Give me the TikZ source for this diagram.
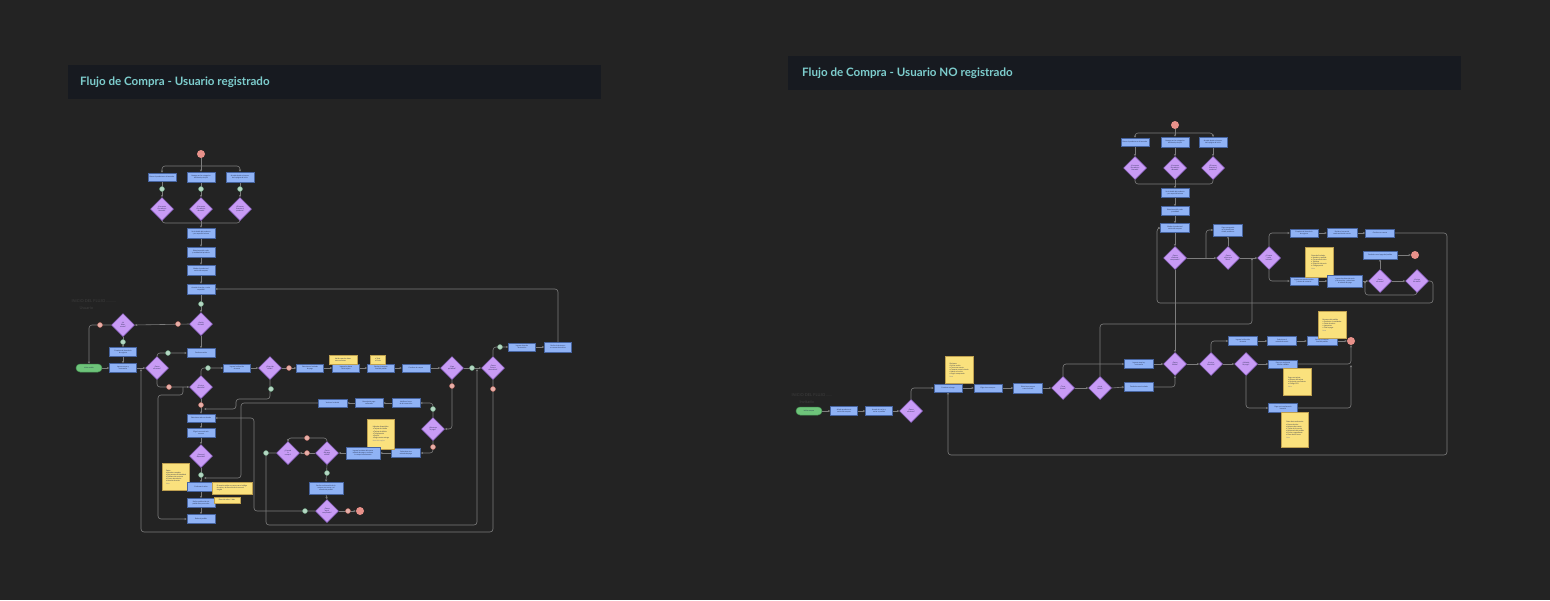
\documentclass[tikz,border=0pt]{standalone}
\usepackage{fontspec}
\setmainfont{Lato}
\usetikzlibrary{shapes.geometric,arrows.meta}
\definecolor{bgc}{RGB}{35,35,35}
\definecolor{barc}{RGB}{23,26,32}
\definecolor{titc}{RGB}{125,205,205}
\definecolor{boxf}{RGB}{143,178,245}
\definecolor{boxd}{RGB}{70,100,160}
\definecolor{diaf}{RGB}{200,155,245}
\definecolor{diad}{RGB}{150,105,210}
\definecolor{notef}{RGB}{250,225,125}
\definecolor{noted}{RGB}{190,160,80}
\definecolor{pillf}{RGB}{110,196,122}
\definecolor{pilld}{RGB}{70,150,85}
\definecolor{endf}{RGB}{232,145,138}
\definecolor{lnc}{RGB}{125,125,125}
\definecolor{gmf}{RGB}{180,215,195}
\definecolor{gmd}{RGB}{105,160,125}
\definecolor{rmf}{RGB}{232,175,168}
\definecolor{rmd}{RGB}{190,110,100}
\definecolor{txt}{RGB}{35,45,75}
\definecolor{dim}{RGB}{62,62,62}
\pgfdeclarelayer{bottom}
\pgfdeclarelayer{lines}
\pgfsetlayers{bottom,lines,main}
\tikzset{
  rc/.style={rounded corners=3pt},
  ln/.style={draw=lnc, line width=0.6pt, -{Stealth[length=2.4pt,width=2.2pt]}},
  lnp/.style={draw=lnc, line width=0.6pt},
  tf/.style={font=\fontsize{1.7}{2.1}\selectfont, text=txt},
  box/.style 2 args={rectangle, draw=boxd, fill=boxf, line width=0.5pt, minimum width=#1pt, minimum height=#2pt, inner sep=0.4pt, align=center, tf},
  dia/.style={diamond, draw=diad, fill=diaf, line width=0.5pt, minimum width=23pt, minimum height=23pt, aspect=1, inner sep=0pt, align=center, tf},
  note/.style 2 args={rectangle, draw=noted, fill=notef, line width=0.4pt, minimum width=#1pt, minimum height=#2pt, inner sep=1pt, align=left, tf},
  pill/.style={rectangle, rounded corners=4pt, draw=pilld, fill=pillf, line width=0.5pt, minimum width=26pt, minimum height=8pt, inner sep=0.4pt, tf},
  endc/.style={circle, fill=endf, minimum size=8pt, inner sep=0pt},
  gm/.style={circle, fill=gmf, draw=gmd, line width=0.4pt, minimum size=5pt, inner sep=0pt},
  rm/.style={circle, fill=rmf, draw=rmd, line width=0.4pt, minimum size=5pt, inner sep=0pt},
  title/.style={anchor=west, inner sep=0pt, text=titc, font=\fontsize{11.6}{13}\selectfont\bfseries},
  dimt/.style={anchor=west, text=dim, font=\fontsize{4}{5}\selectfont},
}
\begin{document}
\begin{tikzpicture}[x=1pt,y=-1pt]
\begin{pgfonlayer}{bottom}
\fill[bgc] (0,0) rectangle (1550,600);
\fill[barc] (68,65) rectangle (601,99);
\fill[barc] (788,56) rectangle (1461,90);
\end{pgfonlayer}
\useasboundingbox (0,0) rectangle (1550,600);
\node[title] (t1) at (80,82) {Flujo de Compra - Usuario registrado};
\node[title] (t2) at (802,73) {Flujo de Compra - Usuario NO registrado};
\node[dimt] (dl1) at (68,301) {INICIO DEL FLUJO ..........};
\node[dimt] (dl2) at (76,308) {Usuario};
\node[dimt] (dr1) at (788,395) {INICIO DEL FLUJO ......};
\node[dimt] (dr2) at (796,402) {Invitado};

% ===== LEFT DIAGRAM =====
\node[endc] (s1) at (201,154) {};
\node[box={28}{8}] (b1) at (162,177) {Busca el producto en el buscador};
\node[box={28}{10}] (b2) at (201,177) {Navega por las categorías\\del menú principal};
\node[box={28}{10}] (b3) at (240,177) {Accede desde un banner\\de la página de inicio};
\node[gm] (g1) at (162,189) {};
\node[gm] (g2) at (201,189) {};
\node[gm] (g3) at (240,189) {};
\node[dia] (d1) at (162,209) {¿Encuentra\\el producto\\buscado?};
\node[dia] (d2) at (201,209) {¿Encuentra\\el producto\\deseado?};
\node[dia] (d3) at (240,209) {¿El banner\\muestra el\\producto?};
\node[box={28}{10}] (b4) at (201,233) {Ve el detalle del producto\\y sus especificaciones};
\node[box={28}{10}] (b5) at (201,252) {Selecciona talla, color\\y cantidad del producto};
\node[box={28}{10}] (b6) at (201,270) {Añade el producto al\\carrito de compras};
\node[box={28}{10}] (b7) at (201,289) {Accede al carrito y revisa\\su pedido};
\node[gm] (g4) at (201,304) {};
\node[dia] (d4) at (201,324) {¿Sesión\\iniciada?};
\node[rm] (r1) at (178,324) {};
\node[dia] (d5) at (123,325) {¿Ya\\tiene\\cuenta?};
\node[rm] (r2) at (100,325) {};
\node[gm] (g5) at (123,342) {};
\node[box={27}{9}] (b8) at (123,352) {Completa el formulario\\de registro};
\node[pill] (pill1) at (89,368) {Iniciar sesión};
\node[box={27}{9}] (b9) at (123,368) {Ingresa correo y\\contraseña};
\node[dia] (d6) at (157,368) {¿Datos\\correctos?};
\node[gm] (g6) at (168,353) {};
\node[box={28}{9}] (b10) at (201,353) {Confirma sesión};
\node[rm] (r3) at (169,387) {};
\node[dia] (d7) at (201,387) {¿Envío a\\domicilio?};
\node[gm] (g7) at (208,368) {};
\node[box={27}{8}] (b11) at (237,368) {Ingresa la dirección\\de envío};
\node[dia] (d8) at (270,368) {¿Dirección\\válida?};
\node[rm] (r4) at (289,368) {};
\node[box={27}{8}] (b12) at (310,368) {Selecciona el método\\de pago};
\node[box={27}{8}] (b13) at (346,368) {Ingresa los datos\\de la tarjeta};
\node[note={28}{9}] (n1) at (343,359.5) {Verifica que los datos\\sean correctos};
\node[box={27}{8}] (b14) at (381,368) {Revisa el resumen\\final del pedido};
\node[note={15}{9}] (n2) at (378,359.5) {• Total\\• Envío};
\node[box={28}{8}] (b15) at (416,368) {Confirma la compra};
\node[dia] (d9) at (452,368) {¿Pago\\aprobado?};
\node[gm] (g8) at (472,368) {};
\node[dia] (d10) at (493,368) {¿Desea\\factura\\electrónica?};
\node[gm] (g9) at (500,347) {};
\node[box={27}{8}] (b16) at (522,347) {Ingresa datos de\\facturación};
\node[box={27}{10}] (b17) at (558,347) {Recibe la factura en\\su correo electrónico};
\node[rm] (r10) at (452,386) {};
\node[rm] (r11) at (493,389) {};
\node[gm] (g10) at (271,389) {};
\node[rm] (r5) at (201,405) {};
\node[box={29}{8}] (b23) at (332.5,403) {Vuelve a la tienda};
\node[box={28}{9}] (b24) at (369,403) {Mensaje de pago\\rechazado};
\node[box={28}{9}] (b25) at (406,403) {Notifica el error\\de la transacción};
\node[gm] (g12) at (433,409) {};
\node[dia] (d12) at (433,429) {¿Reintenta\\el pago?};
\node[rm] (r6) at (433,447) {};
\node[box={29}{9}] (b26) at (406,453) {Selecciona otro\\método de pago};
\node[note={27}{30}] (n3) at (381,434) {Métodos disponibles:\\• Tarjeta de crédito\\• Tarjeta de débito\\• Transferencia\\• PayPal\\• Pago contra entrega\\[0.6pt]{\color{txt!60}Nota del equipo}};
\node[box={34}{12}] (b27) at (363,453) {Ingresa los datos del nuevo\\método de pago y confirma\\la compra nuevamente};
\node[dia] (d13) at (327,453) {¿Datos\\del pago\\válidos?};
\node[rm] (r7) at (307,438) {};
\node[rm] (r8) at (307,453) {};
\node[dia] (d14) at (288,453) {¿Cancela\\la\\compra?};
\node[gm] (g13) at (266,453) {};
\node[gm] (g14) at (327,473) {};
\node[box={34}{12}] (b28) at (326,488) {Recibe confirmación de la\\compra por correo y el\\número de pedido};
\node[dia] (d15) at (327,511) {¿Desea\\seguir\\comprando?};
\node[gm] (g15) at (305,511) {};
\node[rm] (r9) at (348,511) {};
\node[endc] (end2) at (360,511) {};
\node[box={28}{8}] (b18) at (201,418) {Selecciona retiro en tienda};
\node[box={28}{9}] (b19) at (201,433) {Elige la sucursal más\\cercana};
\node[dia] (d11) at (201,456) {¿Sucursal\\disponible?};
\node[gm] (g11) at (201,475) {};
\node[note={27}{27}] (n4) at (176,477) {Datos:\\• Nombre completo\\• Documento de identidad\\• Teléfono de contacto\\• Correo electrónico\\• Horario de retiro\\[0.6pt]{\color{txt!60}Nota}};
\node[box={28}{9}] (b20) at (201,487) {Confirma el retiro};
\node[note={40}{12}] (n5) at (232,488) {El usuario recibe un correo con el código\\de retiro y la dirección de la sucursal\\elegida};
\node[box={28}{9}] (b21) at (201,503) {Recibe notificación de\\pedido listo para retiro};
\node[note={26}{6}] (n6) at (227,500) {Plazo de retiro: 5 días};
\node[box={28}{9}] (b22) at (201,519) {Retira el pedido};

% ===== RIGHT DIAGRAM =====
\node[endc] (s2) at (1175,125) {};
\node[box={28}{8}] (rb1) at (1135,142) {Busca el producto en el buscador};
\node[box={28}{10}] (rb2) at (1175,142) {Navega por las categorías\\del menú principal};
\node[box={28}{10}] (rb3) at (1213,142) {Accede desde un banner\\de la página de inicio};
\node[dia] (rd1) at (1135,168) {¿Encuentra\\el producto\\buscado?};
\node[dia] (rd2) at (1175,168) {¿Encuentra\\el producto\\deseado?};
\node[dia] (rd3) at (1213,168) {¿El banner\\muestra el\\producto?};
\node[box={28}{9}] (rb4) at (1175,193) {Ve el detalle del producto\\y sus especificaciones};
\node[box={28}{9}] (rb5) at (1175,211) {Selecciona talla, color\\y cantidad};
\node[box={29}{9}] (rb6) at (1175,228) {Añade el producto al\\carrito de compras};
\node[dia] (rd4) at (1175,258) {¿Desea\\continuar\\comprando?};
\node[box={29}{12}] (rb7) at (1228,230) {Sigue navegando\\en la tienda para\\añadir productos};
\node[dia] (rd5) at (1228,258) {¿Desea\\registrarse\\ahora?};
\node[dia] (rd6) at (1269,258) {¿Compra\\como\\invitado?};
\node[box={28}{8}] (rbA) at (1304,233) {Completa el formulario\\de registro};
\node[box={30}{9}] (rbB) at (1342,233) {Recibe el correo de\\confirmación de cuenta};
\node[box={29}{8}] (rbC) at (1380,233) {Confirma su cuenta};
\node[box={28}{8}] (rbD) at (1304,281) {Ingresa correo electrónico\\y datos de contacto};
\node[note={28}{30}] (rn1) at (1319,262) {Datos del invitado:\\• Nombre y apellido\\• Correo electrónico\\• Teléfono\\• Dirección de envío\\• Código postal\\[0.6pt]{\color{txt!60}Nota}};
\node[box={35}{12}] (rbE) at (1345,281) {Ingresa los datos de envío\\y facturación, y selecciona\\el método de pago};
\node[dia] (rd8) at (1380,281) {¿Datos\\correctos?};
\node[dia] (rd9) at (1417,281) {¿Corrige\\los datos?};
\node[box={34}{8}] (rbF) at (1380,255) {Continúa con el pago del pedido};
\node[endc] (end3) at (1415,255) {};

\node[pill] (pill2) at (809,411) {Iniciar compra};
\node[box={27}{9}] (rl1) at (844,411) {Añade productos al\\carrito de compras};
\node[box={27}{9}] (rl2) at (879,411) {Accede al carrito y\\revisa su pedido};
\node[dia] (rld1) at (911,411) {¿Desea\\continuar?};
\node[box={28}{8}] (rl3) at (948,388) {Continuar al pago};
\node[note={28}{27}] (rn2) at (959,370) {Opciones:\\• Iniciar sesión\\• Crear una cuenta\\• Comprar como invitado\\• Volver al carrito\\• Seguir comprando\\[0.6pt]{\color{txt!60}Nota}};
\node[box={28}{8}] (rl4) at (988,388) {Elige cómo comprar};
\node[box={29}{10}] (rl5) at (1028,388) {Selecciona compra\\como invitado};
\node[dia] (rld2) at (1063,388) {¿Tiene\\cuenta?};
\node[dia] (rld3) at (1100,388) {¿Inicia\\sesión?};
\node[box={29}{9}] (rl6) at (1139,364) {Ingresa usuario y\\contraseña};
\node[box={29}{9}] (rl7) at (1139,387) {Continúa como invitado};
\node[dia] (rd7) at (1175,364) {¿Datos\\válidos?};
\node[dia] (rdA) at (1211,364) {¿Envío a\\domicilio?};
\node[dia] (rdB) at (1246,364) {¿Método\\de pago?};
\node[box={29}{9}] (rbG) at (1243,341) {Ingresa la dirección\\de envío};
\node[box={29}{9}] (rbH) at (1282,341) {Selecciona el\\método de envío};
\node[box={30}{9}] (rbI) at (1322,341) {Revisa el resumen\\final del pedido};
\node[note={28}{27}] (rn3) at (1332,325) {Resumen del pedido:\\• Productos y cantidades\\• Costo de envío\\• Impuestos\\• Total a pagar\\[0.6pt]{\color{txt!60}Nota}};
\node[endc] (end4) at (1351,341) {};
\node[box={29}{8}] (rbJ) at (1283,364) {Paga con tarjeta de\\crédito o débito};
\node[note={28}{27}] (rn4) at (1297,382) {Pago con tarjeta:\\• Número de tarjeta\\• Fecha de vencimiento\\• Código CVV\\[0.6pt]{\color{txt!60}Nota}};
\node[box={29}{9}] (rbK) at (1283,408) {Paga con transferencia\\bancaria};
\node[note={27}{35}] (rn5) at (1295,430) {Datos de transferencia:\\• Banco destino\\• Número de cuenta\\• Titular de la cuenta\\• Referencia del pedido\\• Enviar comprobante\\• Plazo de 48 horas\\[0.6pt]{\color{txt!60}Nota}};

\begin{pgfonlayer}{lines}
% left top
\draw[ln] (s1.south) -- (b2.north);
\draw[ln,rc] (201,166) -| (b1.north);
\draw[ln,rc] (201,166) -| (b3.north);
\draw[ln] (b1.south) -- (d1.north);
\draw[ln] (b2.south) -- (d2.north);
\draw[ln] (b3.south) -- (d3.north);
\draw[lnp,rc] (d1.south) -- (162,223) -- (240,223) -- (d3.south);
\draw[ln] (d2.south) -- (b4.north);
\draw[ln] (b4) -- (b5);
\draw[ln] (b5) -- (b6);
\draw[ln] (b6) -- (b7);
\draw[ln] (b7.south) -- (d4.north);
\draw[ln,rc] (b17.north) |- (b7.east);
\draw[ln] (d4.west) -- (d5.east);
\draw[ln,rc] (d5.west) -| (pill1.north);
\draw[ln] (d5.south) -- (b8.north);
\draw[ln] (b8.south) -- (b9.north);
\draw[ln] (pill1.east) -- (b9.west);
\draw[ln] (b9.east) -- (d6.west);
\draw[ln,rc] (d6.north) |- (b10.west);
\draw[ln] (d4.south) -- (b10.north);
\draw[ln,rc] (d6.south) |- (d7.west);
\draw[ln,rc] (d7.north) |- (b11.west);
\draw[ln] (b11) -- (d8);
\draw[ln] (d8) -- (b12);
\draw[ln] (b12) -- (b13);
\draw[ln] (b13) -- (b14);
\draw[ln] (b14) -- (b15);
\draw[ln] (b15) -- (d9);
\draw[ln] (d9) -- (d10);
\draw[ln,rc] (d10.north) |- (b16.west);
\draw[ln] (b16) -- (b17);
\draw[ln,rc] (d10.south) -- (493,532) -- (141,532) -- (141,369);
\draw[ln,rc] (d14.west) -- (266,453) -- (266,525) -- (477,525) -- (477,369);
\draw[ln,rc] (d9.south) |- (d12.east);
\draw[ln,rc] (d12.north) |- (b25.east);
\draw[ln] (b25) -- (b24);
\draw[ln] (b24) -- (b23);
\draw[ln,rc] (b23.west) -- (241,403) -- (241,478) -- (204,478);
\draw[ln,rc] (d12.south) |- (b26.east);
\draw[ln] (b26) -- (b27);
\draw[ln] (b27) -- (d13);
\draw[ln] (d13.west) -- (d14.east);
\draw[ln,rc] (d13.north) -- (327,438) -- (288,438) -- (d14.north);
\draw[ln] (d13.south) -- (b28.north);
\draw[ln] (b28.south) -- (d15.north);
\draw[ln] (d15.east) -- (end2.west);
\draw[ln,rc] (d15.west) -- (254,511) -- (254,418) -- (b18.east);
\draw[ln,rc] (d8.south) -- (270,399) -- (236,399) -- (236,409) -- (204,409);
\draw[ln] (d7.south) -- (b18.north);
\draw[ln,rc] (183,387) -- (183,395) -- (158,395) -- (158,519) -- (b22.west);
\draw[ln] (b18) -- (b19);
\draw[ln] (b19) -- (d11);
\draw[ln] (d11) -- (b20);
\draw[ln] (b20) -- (b21);
\draw[ln] (b21) -- (b22);
% right top
\draw[ln] (s2.south) -- (rb2.north);
\draw[ln,rc] (1175,133) -| (rb1.north);
\draw[ln,rc] (1175,133) -| (rb3.north);
\draw[ln] (rb1) -- (rd1);
\draw[ln] (rb2) -- (rd2);
\draw[ln] (rb3) -- (rd3);
\draw[lnp,rc] (rd1.south) -- (1135,184) -- (1213,184) -- (rd3.south);
\draw[ln] (rd2.south) -- (rb4.north);
\draw[ln] (rb4) -- (rb5);
\draw[ln] (rb5) -- (rb6);
\draw[ln] (rb6) -- (rd4);
\draw[ln] (rd4.east) -- (rd5.west);
\draw[ln,rc] (1206,258) |- (rb7.west);
\draw[ln] (rd5.north) -- (rb7.south);
\draw[ln] (rd5.east) -- (rd6.west);
\draw[ln,rc] (rd6.north) |- (rbA.west);
\draw[ln] (rbA) -- (rbB);
\draw[ln] (rbB) -- (rbC);
\draw[ln,rc] (rbC.east) -- (1447,233) -- (1447,455) -- (948,455) -- (rl3.south);
\draw[ln,rc] (rd6.south) |- (rbD.west);
\draw[ln] (rbD) -- (rbE);
\draw[ln] (rbE) -- (rd8);
\draw[ln] (rd8) -- (rd9);
\draw[ln] (rd8.north) -- (rbF.south);
\draw[ln] (rbF.east) -- (end3.west);
\draw[ln,rc] (rd9.south) -- (1417,295) -- (1365,295) -- (1365,281);
\draw[ln,rc] (rd9.east) -- (1433,281) -- (1433,303) -- (1157,303) -- (1157,228) -- (rb6.west);
\draw[ln] (rd4.south) -- (rd7.north);
\draw[ln,rc] (rld3.north) -- (1100,324) -- (1252,324) -- (1252,258);
% right bottom
\draw[ln] (pill2) -- (rl1);
\draw[ln] (rl1) -- (rl2);
\draw[ln] (rl2) -- (rld1);
\draw[ln,rc] (rld1.north) |- (rl3.west);
\draw[ln] (rl3) -- (rl4);
\draw[ln] (rl4) -- (rl5);
\draw[ln] (rl5) -- (rld2);
\draw[ln] (rld2) -- (rld3);
\draw[ln,rc] (rld2.north) |- (rl6.west);
\draw[ln] (rld3.east) -- (rl7.west);
\draw[ln,rc] (rl7.east) -| (rd7.south);
\draw[ln] (rl6.east) -- (rd7.west);
\draw[ln] (rd7) -- (rdA);
\draw[ln] (rdA) -- (rdB);
\draw[ln,rc] (rdA.north) |- (rbG.west);
\draw[ln] (rbG) -- (rbH);
\draw[ln] (rbH) -- (rbI);
\draw[ln] (rbI) -- (end4);
\draw[ln] (rdB.east) -- (rbJ.west);
\draw[ln,rc] (rbJ.east) -| (end4.south);
\draw[ln,rc] (rdB.south) |- (rbK.west);
\draw[ln,rc] (rbK.east) -- (1351,408) -- (1351,365);
\end{pgfonlayer}
\end{tikzpicture}
\end{document}
